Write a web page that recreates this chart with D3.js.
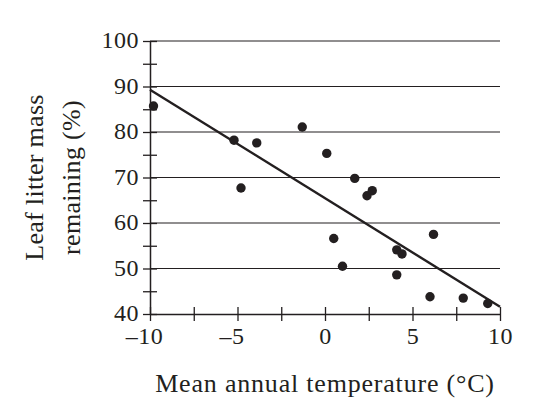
<!DOCTYPE html>
<html>
<head>
<meta charset="utf-8">
<script src="https://cdn.jsdelivr.net/npm/d3@7"></script>
<style>
  body { margin: 0; background: #fff; }
  text { font-family: "Liberation Serif", "DejaVu Serif", serif; fill: #231f20; }
</style>
</head>
<body>
<script>
// data
const temp = [-9.8, -5.2, -3.9, -4.8, -1.3, 0.1, 1.7, 2.4, 2.7, 0.5, 1.0, 4.1, 4.4, 4.1, 6.2, 6.0, 7.9, 9.3];
const mass = [85.7, 78.2, 77.6, 67.7, 81.1, 75.3, 69.8, 66.0, 67.1, 56.6, 50.5, 54.1, 53.2, 48.6, 57.5, 43.8, 43.5, 42.3];
const fitX = [-10, 10];
const fitY = [89.3, 41.6];
const xTicks = [-10, -7.5, -5, -2.5, 0, 2.5, 5, 7.5, 10];
const yTicks = [40, 45, 50, 55, 60, 65, 70, 75, 80, 85, 90, 95, 100];
const gridLines = [50, 60, 70, 80, 90, 100];

const margin = {top: 41, right: 34, bottom: 97, left: 150}
  , width = 534 - margin.left - margin.right
  , height = 411 - margin.top - margin.bottom;

const ink = '#231f20';

const x = d3.scaleLinear().domain([-10, 10]).range([0, width]);
const y = d3.scaleLinear().domain([40, 100]).range([height, 0]);

const svg = d3.select('body').append('svg')
  .attr('width', 534)
  .attr('height', 411)
  .append('g')
    .attr('transform', 'translate(' + margin.left + ',' + margin.top + ')');

// horizontal gridlines
svg.selectAll('.grid')
  .data(gridLines)
  .enter()
    .append('line')
    .attr('x1', 0)
    .attr('x2', width)
    .attr('y1', d => y(d))
    .attr('y2', d => y(d))
    .attr('stroke', ink)
    .attr('stroke-width', 1.2);

const xAxis = svg.append('g')
  .attr('transform', 'translate(0,' + height + ')')
  .call(d3.axisBottom(x)
    .tickValues(xTicks)
    .tickSize(0)
    .tickFormat(d => (d % 5 === 0 ? (d < 0 ? '\u2013' + Math.abs(d) : '' + d) : '')));
xAxis.selectAll('.tick line').attr('y1', 7).attr('y2', -7);
xAxis.selectAll('.tick text')
  .attr('y', 13)
  .attr('dy', '0.71em')
  .style('font-size', '24px')
  .style('letter-spacing', '0.5px');

// centre negative labels on their digits, so the dash hangs to the left
const probe = svg.append('text').style('font-size', '24px').text('\u2013');
const dashW = probe.node().getComputedTextLength();
probe.remove();
xAxis.selectAll('.tick text').attr('x', d => (d < 0 ? -dashW / 2 : 0));

const yAxis = svg.append('g')
  .call(d3.axisLeft(y)
    .tickValues(yTicks)
    .tickSize(0)
    .tickFormat(d => (d % 10 === 0 ? d : '')));
yAxis.selectAll('.tick line').attr('x1', -7).attr('x2', 7);
yAxis.selectAll('.tick text')
  .attr('x', -11)
  .attr('dy', '0.28em')
  .style('font-size', '24px')
  .style('letter-spacing', '0.5px');

[xAxis, yAxis].forEach(a => {
  a.select('.domain').attr('stroke', ink).attr('stroke-width', 1.5);
  a.selectAll('.tick line').attr('stroke', ink).attr('stroke-width', 1.3);
  a.selectAll('.tick text').attr('fill', ink).style('font-family', '"Liberation Serif", serif');
});

// regression line
const line = d3.line()
  .x(d => x(d[0]))
  .y(d => y(d[1]));

svg.append('path')
  .datum(fitX.map((d, i) => [d, fitY[i]]))
  .attr('d', line)
  .attr('fill', 'none')
  .attr('stroke', ink)
  .attr('stroke-width', 2.4);

// points
svg.selectAll('.dot')
  .data(temp)
  .enter()
    .append('circle')
    .attr('cx', d => x(d))
    .attr('cy', (d, i) => y(mass[i]))
    .attr('r', 4.7)
    .attr('fill', ink);

// axis titles
svg.append('text')
  .attr('x', width / 2)
  .attr('y', height + 78)
  .attr('text-anchor', 'middle')
  .style('font-size', '26px')
  .style('letter-spacing', '0.8px')
  .text('Mean annual temperature (\u00b0C)');

const yt = svg.append('text')
  .attr('transform', 'translate(-107,' + (height / 2) + ') rotate(-90)')
  .attr('text-anchor', 'middle')
  .style('font-size', '26px')
  .style('letter-spacing', '0.3px');
yt.append('tspan').attr('x', 0).attr('dy', 0).text('Leaf litter mass');
yt.append('tspan').attr('x', 0).attr('dy', 37).text('remaining (%)');
</script>
</body>
</html>
